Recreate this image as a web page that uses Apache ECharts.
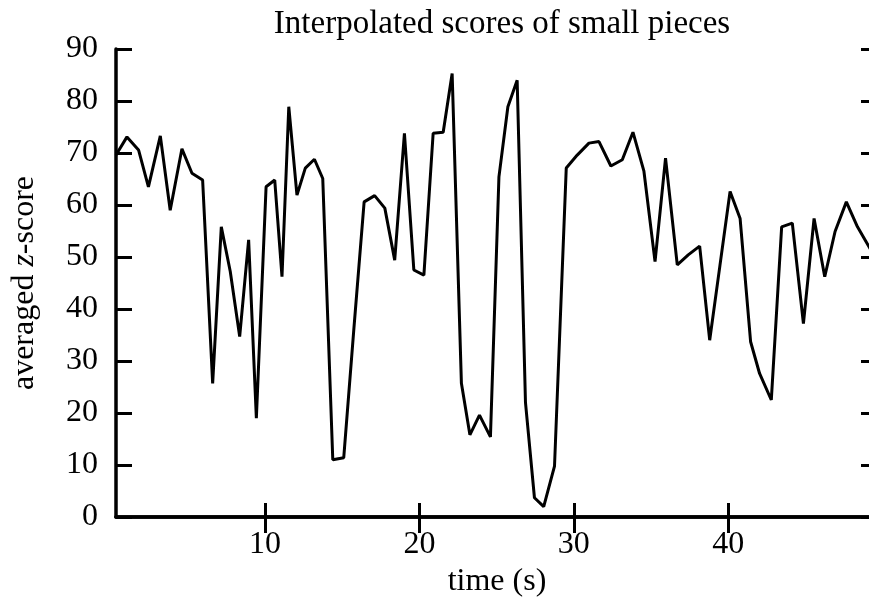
<!DOCTYPE html>
<html>
<head>
<meta charset="utf-8">
<script src="https://cdn.jsdelivr.net/npm/echarts@6/dist/echarts.min.js"></script>
<style>html,body{margin:0;padding:0;background:#fff}#c{width:869px;height:604px}</style>
</head>
<body>
<div id="c"></div>
<script>
const titleText = "Interpolated scores of small pieces";
const xName = "time (s)";
const xTickValues = [10, 20, 30, 40];
const yTickValues = [0, 10, 20, 30, 40, 50, 60, 70, 80, 90];
const timeValues = [0.35, 1.06, 1.81, 2.45, 3.22, 3.86, 4.62, 5.27, 5.96, 6.61, 7.17, 7.75, 8.36, 8.94, 9.44, 10.07, 10.63, 11.1, 11.54, 12.07, 12.61, 13.2, 13.74, 14.39, 15.1, 15.75, 16.42, 17.1, 17.76, 18.4, 19.03, 19.64, 20.29, 20.89, 21.54, 22.12, 22.72, 23.27, 23.89, 24.6, 25.15, 25.73, 26.33, 26.87, 27.45, 28.05, 28.75, 29.51, 30.22, 30.98, 31.63, 32.4, 33.14, 33.83, 34.54, 35.26, 35.94, 36.7, 37.41, 38.15, 38.8, 39.46, 40.12, 40.77, 41.45, 42.03, 42.79, 43.46, 44.15, 44.87, 45.56, 46.25, 46.92, 47.65, 48.37, 49.7];
const scoreValues = [69.6, 73.1, 70.6, 63.5, 73.3, 59.0, 70.8, 66.1, 64.8, 25.7, 55.8, 47.2, 34.7, 53.3, 19.0, 63.5, 64.8, 46.2, 78.9, 61.9, 67.1, 68.8, 65.1, 11.0, 11.4, 36.0, 60.6, 61.8, 59.4, 49.4, 73.8, 47.5, 46.5, 73.8, 74.0, 85.3, 25.7, 15.8, 19.6, 15.4, 65.4, 78.9, 84.0, 22.0, 3.7, 2.0, 9.8, 67.1, 69.6, 71.9, 72.2, 67.5, 68.7, 74.0, 66.5, 49.1, 69.0, 48.5, 50.4, 52.1, 34.0, 48.3, 62.6, 57.4, 33.7, 27.6, 22.5, 55.8, 56.5, 37.2, 57.4, 46.2, 54.9, 60.6, 55.8, 49.0];

const seriesData = timeValues.map((t, i) => [t, scoreValues[i]]);
const serif = "Liberation Serif";
const fs = 32;
const axisLineStyle = { color: "#000", width: 3.5 };

const chart = echarts.init(document.getElementById("c"), null, { renderer: "canvas" });
chart.setOption({
  animation: false,
  backgroundColor: "#fff",
  title: {
    text: titleText,
    left: 497, top: 3, textAlign: "center",
    textStyle: { fontFamily: serif, fontSize: 33, fontWeight: "normal", color: "#000" }
  },
  grid: { left: 116, top: 49, width: 762, height: 468, containLabel: false, outerBoundsMode: "none" },
  xAxis: [{
    type: "value", min: timeValues[0], max: timeValues[timeValues.length - 1],
    position: "bottom",
    name: xName, nameLocation: "middle", nameGap: 45,
    nameTextStyle: { fontFamily: serif, fontSize: fs, color: "#000" },
    axisLine: { show: true, lineStyle: axisLineStyle },
    axisTick: { show: true, inside: true, length: 14, customValues: xTickValues, lineStyle: { color: "#000", width: 3 } },
    axisLabel: { show: true, customValues: xTickValues, margin: 12, fontFamily: serif, fontSize: fs, color: "#000" },
    splitLine: { show: false }
  }, {
    type: "value", min: timeValues[0], max: timeValues[timeValues.length - 1],
    position: "top",
    axisLine: { show: true, lineStyle: axisLineStyle },
    axisTick: { show: true, inside: true, length: 16, customValues: xTickValues, lineStyle: { color: "#000", width: 3 } },
    axisLabel: { show: false },
    splitLine: { show: false }
  }],
  yAxis: [{
    type: "value", min: yTickValues[0], max: yTickValues[yTickValues.length - 1], interval: 10,
    position: "left",
    name: "{n|averaged }{i|z}{n|-score}", nameLocation: "middle", nameGap: 75, nameRotate: 90,
    nameTextStyle: {
      fontFamily: serif, fontSize: fs, color: "#000",
      rich: {
        n: { fontFamily: serif, fontSize: fs, color: "#000" },
        i: { fontFamily: serif, fontSize: fs, color: "#000", fontStyle: "italic" }
      }
    },
    axisLine: { show: true, lineStyle: axisLineStyle },
    axisTick: { show: true, inside: true, length: 16, lineStyle: { color: "#000", width: 3 } },
    axisLabel: { show: true, margin: 18, fontFamily: serif, fontSize: fs, color: "#000" },
    splitLine: { show: false }
  }, {
    type: "value", min: yTickValues[0], max: yTickValues[yTickValues.length - 1], interval: 10,
    position: "right",
    axisLine: { show: true, lineStyle: axisLineStyle },
    axisTick: { show: true, inside: true, length: 17, lineStyle: { color: "#000", width: 3 } },
    axisLabel: { show: false },
    splitLine: { show: false }
  }],
  series: [{
    type: "line",
    data: seriesData,
    showSymbol: false,
    symbol: "none",
    smooth: false,
    clip: true,
    lineStyle: { color: "#000", width: 3 },
    itemStyle: { color: "#000" }
  }]
});
</script>
</body>
</html>
